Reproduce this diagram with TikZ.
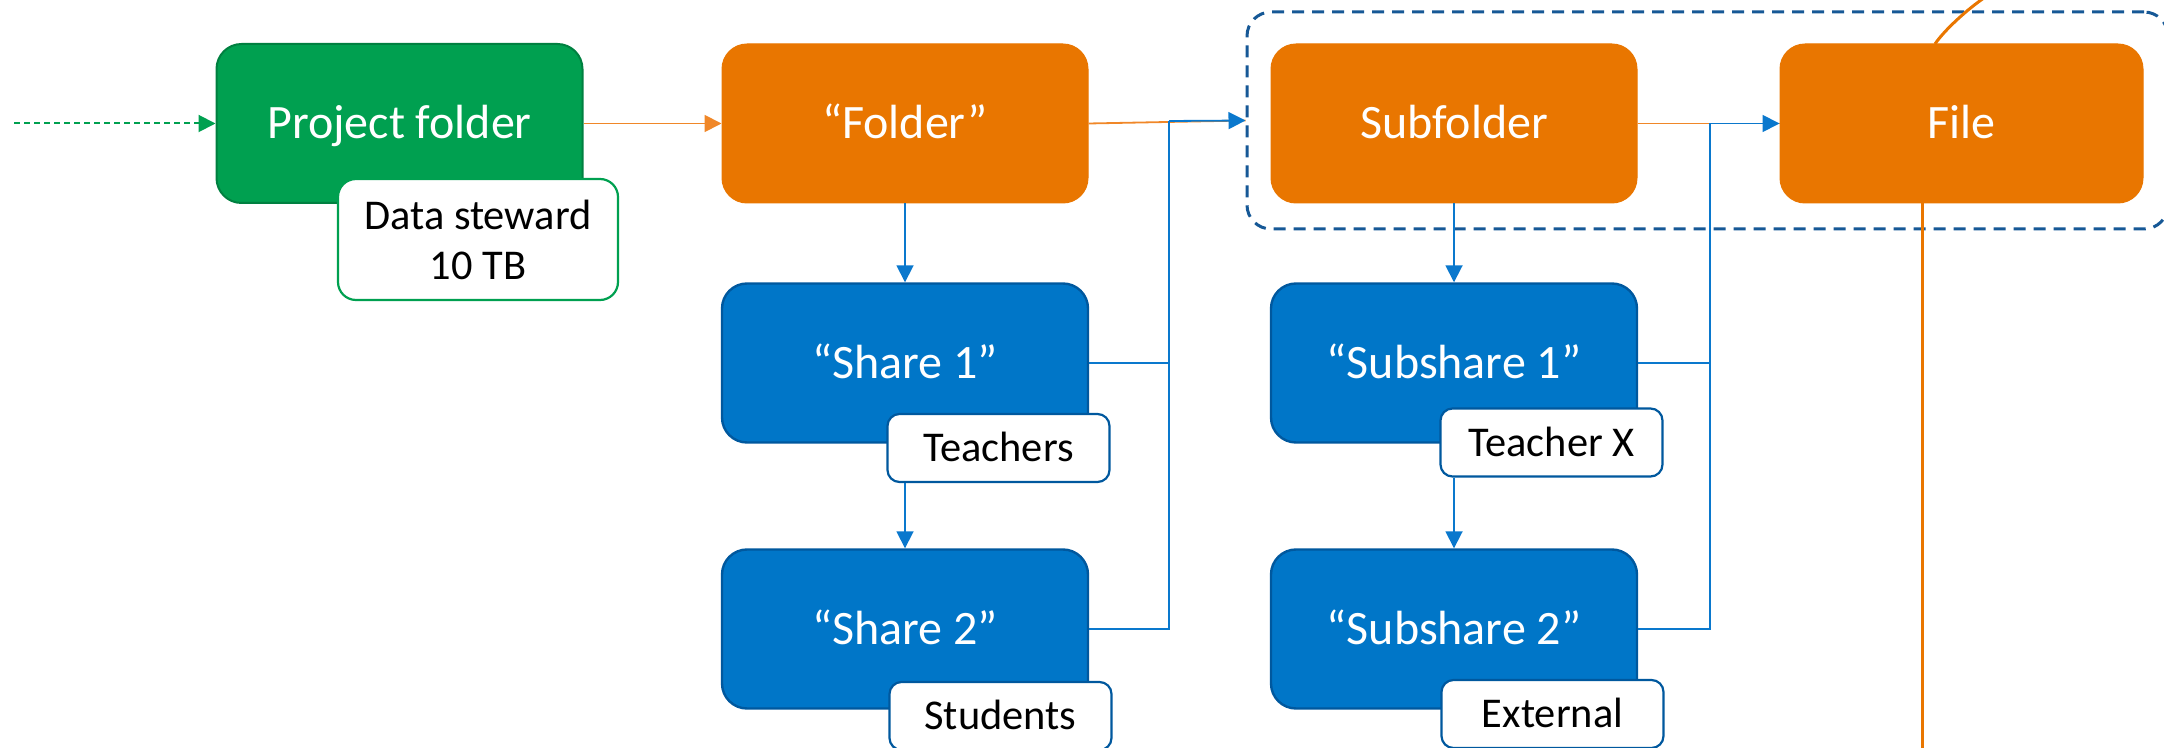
\documentclass[tikz,border=0pt]{standalone}
\usepackage{fontspec}
\setmainfont{Carlito}
\usetikzlibrary{arrows.meta}

\definecolor{pgreen}{RGB}{0,160,80}
\definecolor{pgreenD}{RGB}{0,128,64}
\definecolor{porange}{RGB}{233,118,0}
\definecolor{porangeL}{RGB}{240,135,40}
\definecolor{pblue}{RGB}{0,118,200}
\definecolor{pblueD}{RGB}{0,88,158}
\definecolor{pline}{RGB}{10,120,205}
\definecolor{pdash}{RGB}{22,88,150}

\begin{document}
\begin{tikzpicture}[x=0.5pt,y=-0.5pt,
  mainbox/.style={rounded corners=12.5pt, minimum width=183pt, minimum height=79.5pt,
    inner sep=0pt, text=white, font=\fontsize{24}{29}\selectfont,
    text height=15.4pt, text depth=0pt},
  greenbox/.style={mainbox, fill=pgreen, draw=pgreenD, line width=1pt},
  orangebox/.style={mainbox, fill=porange, draw=porange, line width=0.5pt},
  bluebox/.style={mainbox, fill=pblue, draw=pblueD, line width=1.2pt},
  tagbase/.style={fill=white, line width=1.1pt, inner sep=0pt, text=black,
    font=\fontsize{21.2}{25}\selectfont},
  tagbox/.style={tagbase, draw=pblueD, rounded corners=6pt, minimum width=111pt,
    minimum height=34pt, text height=13.7pt, text depth=0pt},
  groupbox/.style={draw=pdash, line width=1.5pt, dash pattern=on 6pt off 4pt,
    rounded corners=12pt, minimum width=460.5pt, minimum height=108.5pt, inner sep=0pt},
  tip/.style={-{Triangle[length=8.5pt,width=8.5pt]}},
  link/.style={draw=pline, line width=0.9pt},
  linkarrow/.style={link, tip},
  olink/.style={draw=porangeL, line width=0.9pt},
  othick/.style={draw=porange, line width=1.5pt},
]
\useasboundingbox (0,0) rectangle (2164,748);
\clip (0,0) rectangle (2164,748);

% dashed grouping around subfolder and file
\node[groupbox] (group) at (1707.5,120.5) {};

% main boxes
\node[greenbox]  (proj)      at (399.5,123.5) {Project folder};
\node[orangebox] (folder)    at (905,123.5)   {“Folder”};
\node[orangebox] (subfolder) at (1454,123.5)  {Subfolder};
\node[orangebox, minimum width=181.5pt] (file) at (1961.5,123.5) {File};
\node[bluebox]   (share1)    at (905,363)     {“Share 1”};
\node[bluebox]   (share2)    at (905,629)     {“Share 2”};
\node[bluebox]   (subshare1) at (1454,363)    {“Subshare 1”};
\node[bluebox]   (subshare2) at (1454,629)    {“Subshare 2”};

% tags on the boxes
\node[tagbase, draw=pgreen, rounded corners=9pt, minimum width=140pt, minimum height=60.5pt,
  align=center] (steward) at (478,239.5) {Data steward\\10 TB};
\node[tagbox] (teachers) at (998.5,448)  {Teachers};
\node[tagbox] (students) at (1000.5,716) {Students};
\node[tagbox] (teacherx) at (1551.5,442.5) {Teacher X};
\node[tagbox] (external) at (1552.5,714) {External};

% free ends and junctions
\coordinate (start) at (14,123.5);
\coordinate (jL) at (1169,121);
\coordinate (jR) at (1710,123.5);
\coordinate (arcStart) at (1935,44);
\coordinate (arcEnd) at (1990,-6);
\coordinate (downStart) at (1922,203);
\coordinate (downEnd) at (1922,760);

% incoming link
\draw[draw=pgreen, line width=1pt, dash pattern=on 3pt off 2pt, tip, color=pgreen]
  (start) -- (proj.west);

% orange hierarchy
\draw[olink, tip] (proj.east) -- (folder.west);
\draw[olink] (folder.east) -- (group.west);
\draw[olink] (subfolder.east) -- (file.west);

% shares
\draw[linkarrow] (folder.south) -- (share1.north);
\draw[linkarrow] (teachers.south -| share1.south) -- (share2.north);
\draw[linkarrow] (subfolder.south) -- (subshare1.north);
\draw[linkarrow] (teacherx.south -| subshare1.south) -- (subshare2.north);

\draw[link] (share1.east) -| (jL);
\draw[link] (share2.east) -| (jL);
\draw[linkarrow] (jL) -- (group.west);

\draw[link] (subshare1.east) -| (jR);
\draw[link] (subshare2.east) -| (jR);
\draw[linkarrow] (jR) -- (file.west);

% file links leaving the picture
\draw[othick] (arcStart) .. controls (1945,29) and (1972,5) .. (arcEnd);
\draw[othick] (downStart) -- (downEnd);
\end{tikzpicture}
\end{document}
